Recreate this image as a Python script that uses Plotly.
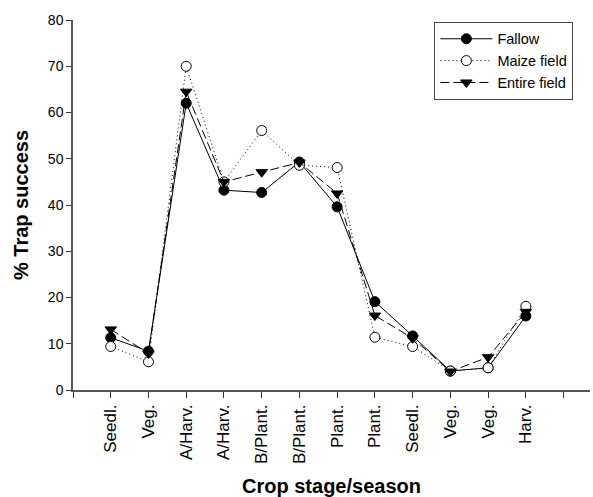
import plotly.graph_objects as go

categories = ["Seedl.", "Veg.", "A/Harv.", "A/Harv.", "B/Plant.", "B/Plant.",
              "Plant.", "Plant.", "Seedl.", "Veg.", "Veg.", "Harv."]
fallow = [11.3, 8.4, 62.0, 43.2, 42.7, 49.3, 39.6, 19.1, 11.7, 4.1, 4.8, 16.0]
maize = [9.4, 6.1, 70.0, 45.0, 56.1, 48.6, 48.1, 11.4, 9.4, 4.1, 4.8, 18.1]
entire = [13.1, 7.9, 64.5, 45.0, 47.1, 49.2, 42.5, 16.1, 11.2, 4.0, 7.1, 16.9]

xpos = list(range(1, len(categories) + 1))

fig = go.Figure()
fig.add_trace(go.Scatter(
    x=xpos, y=fallow, name="Fallow", mode="lines+markers",
    line=dict(color="black", width=1, dash="solid"),
    marker=dict(symbol="circle", size=10, color="black", line=dict(color="black", width=1))))
fig.add_trace(go.Scatter(
    x=xpos, y=maize, name="Maize field", mode="lines+markers",
    line=dict(color="black", width=1, dash="1px,3px"),
    marker=dict(symbol="circle", size=10, color="white", line=dict(color="black", width=1))))
fig.add_trace(go.Scatter(
    x=xpos, y=entire, name="Entire field", mode="lines+markers",
    line=dict(color="black", width=1, dash="9px,4px"),
    marker=dict(symbol="triangle-down", size=10, color="black", line=dict(color="black", width=1))))

font_family = "Liberation Sans, Arial, sans-serif"

fig.update_layout(
    width=593, height=497,
    margin=dict(l=73, r=3, t=20, b=107),
    plot_bgcolor="white", paper_bgcolor="white",
    font=dict(family=font_family, size=14, color="black"),
    showlegend=True,
    legend=dict(
        x=0.699, y=0.995, xanchor="left", yanchor="top",
        bordercolor="#444", borderwidth=1, bgcolor="white",
        font=dict(size=14.5), tracegroupgap=0, itemwidth=52,
    ),
    xaxis=dict(
        range=[0, 13.7], tickmode="array",
        tickvals=list(range(0, 14)), ticktext=[""] + categories + [""],
        tickangle=-90, ticks="outside", ticklen=6, tickcolor="#333",
        tickfont=dict(size=17), automargin=False,
        showline=True, linecolor="#555", linewidth=1.5,
        showgrid=False, zeroline=False,
        title=dict(text="<b>Crop stage/season</b>", font=dict(size=20), standoff=18),
    ),
    yaxis=dict(
        range=[0, 80], tickmode="array", tickvals=list(range(0, 81, 10)),
        ticks="outside", ticklen=5, tickcolor="#333",
        tickfont=dict(size=14), automargin=False,
        showline=True, linecolor="#555", linewidth=1.5,
        showgrid=False, zeroline=False,
        title=dict(text="<b>% Trap success</b>", font=dict(size=20), standoff=14),
    ),
)

fig.write_html("out.html")
